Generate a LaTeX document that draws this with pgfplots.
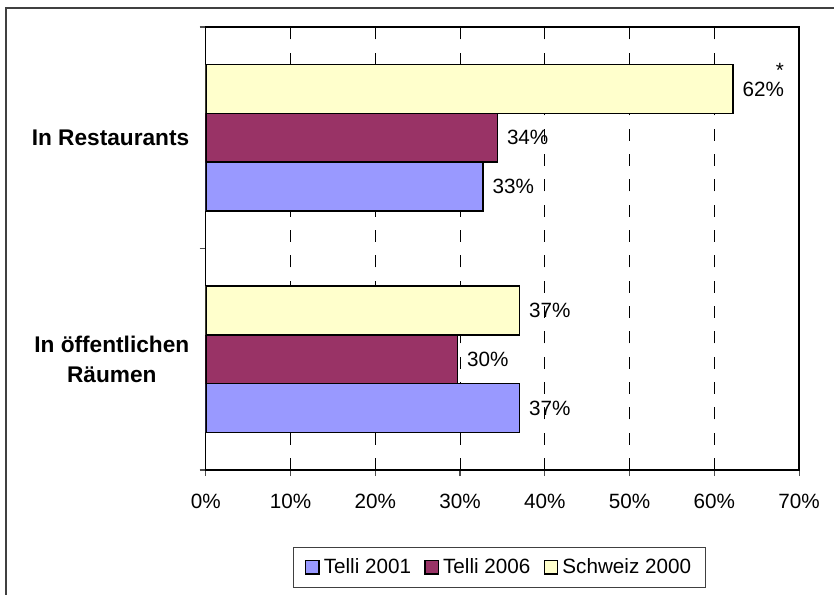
\documentclass[border=0pt]{standalone}
\usepackage{fontspec}
\setmainfont{Liberation Sans}
\usepackage{pgfplots}
\pgfplotsset{compat=1.18}
\definecolor{telliA}{HTML}{9999FF}
\definecolor{telliB}{HTML}{993366}
\definecolor{schweiz}{HTML}{FFFFCC}
\begin{document}
\fontsize{15.5}{18}\selectfont
\begin{tikzpicture}
% page frame (1px = 0.75pt, origin = lower left of plot area)
\useasboundingbox (-154.3pt,-93.75pt) rectangle (471.2pt,352.5pt);
\draw[black!75,line width=1pt] (-149.8pt,-93.75pt) -- (-149.8pt,346.5pt) -- (471.2pt,346.5pt);
\begin{axis}[
  at={(0pt,0pt)},anchor=south west,
  scale only axis,width=445pt,height=332.25pt,
  xbar,bar width=0.22,
  xmin=0,xmax=70,ymin=0,ymax=2,
  axis line style={black,line width=1.1pt},
  xtick={0,10,...,70},
  xticklabels={0\%,10\%,20\%,30\%,40\%,50\%,60\%,70\%},
  ytick={0,1,2},yticklabels={},
  extra y ticks={0.5,1.5},
  extra y tick labels={{In öffentlichen\\Räumen},{In Restaurants}},
  extra y tick style={major tick length=0pt,
    tick label style={font=\fontsize{17}{22}\selectfont\bfseries,align=center,xshift=-7pt}},
  tick align=outside,xtick pos=bottom,ytick pos=left,
  major tick length=4.5pt,
  tick style={black!70,line width=0.8pt},
  xticklabel style={yshift=-8pt},
  xmajorgrids,
  major grid style={black,line width=0.7pt,dash pattern=on 9pt off 10pt},
  nodes near coords,
  point meta=explicit symbolic,
  every node near coord/.append style={anchor=west,xshift=1.5pt},
  legend style={at={(0.495,-0.22)},anchor=center,legend columns=-1,
    draw=black!75,line width=0.8pt,inner xsep=9pt,inner ysep=6pt,
    /tikz/every odd column/.append style={column sep=1pt},
    /tikz/every even column/.append style={column sep=8pt}},
  legend image code/.code={\draw[#1,line width=1pt] (0pt,-5pt) rectangle (10pt,5pt);},
]
\addplot[fill=telliA,draw=black,line width=1.2pt,bar shift=-0.22]
  coordinates {(37.0,0.5) [37\%] (32.7,1.5) [33\%]};
\addplot[fill=telliB,draw=black,line width=1.2pt,bar shift=0]
  coordinates {(29.7,0.5) [30\%] (34.4,1.5) [34\%]};
\addplot[fill=schweiz,draw=black,line width=1.2pt,bar shift=0.22]
  coordinates {(37.0,0.5) [37\%] (62.2,1.5) [62\%\llap{\smash{\raisebox{0.88em}{*}}}]};
\legend{Telli 2001,Telli 2006,Schweiz 2000}
\end{axis}
\end{tikzpicture}
\end{document}
